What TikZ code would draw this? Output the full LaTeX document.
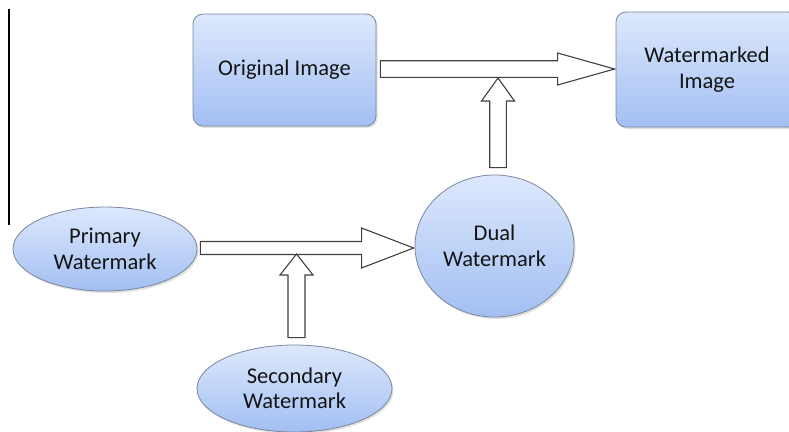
\documentclass[tikz,border=0pt]{standalone}
\usepackage{fontspec}
\setmainfont{Carlito}
\usetikzlibrary{calc,shapes.geometric,shadows}
\definecolor{topblue}{HTML}{DDE8FC}
\definecolor{botblue}{HTML}{A2BFF3}
\definecolor{edgegray}{HTML}{7A879C}
\tikzset{
  shapebase/.style={draw=edgegray, line width=0.8pt, top color=topblue, bottom color=botblue,
    drop shadow={opacity=0.25, shadow xshift=1.5pt, shadow yshift=-2pt},
    font=\fontsize{22.5}{25.5}\selectfont, text=black!92, align=center, inner sep=0pt},
  boxnode/.style={shapebase, rectangle, rounded corners=10pt},
  ellnode/.style={shapebase, ellipse},
  blockarrow/.style={draw=black!75, line width=1.1pt, fill=white, line join=miter}
}
% horizontal block arrow: start, tip, half shaft, half head, head length
\newcommand{\hblock}[5]{%
  \draw[blockarrow] ($(#1)+(0,-#3)$) -- ($(#2)+(-#5,-#3)$) -- ($(#2)+(-#5,-#4)$) -- (#2)
    -- ($(#2)+(-#5,#4)$) -- ($(#2)+(-#5,#3)$) -- ($(#1)+(0,#3)$) -- cycle;}
% vertical (upward) block arrow: start, tip, half shaft, half head, head length
\newcommand{\vblock}[5]{%
  \draw[blockarrow] ($(#1)+(-#3,0)$) -- ($(#2)+(-#3,#5)$) -- ($(#2)+(-#4,#5)$) -- (#2)
    -- ($(#2)+(#4,#5)$) -- ($(#2)+(#3,#5)$) -- ($(#1)+(#3,0)$) -- cycle;}
\begin{document}
\begin{tikzpicture}[x=1pt,y=-1pt]
\clip (0,0) rectangle (789,431);
\fill[white] (0,0) rectangle (789,431);

% left vertical rule
\draw[line width=1.2pt, black] (9,9) coordinate (ltop) -- (9,225) coordinate (lbot);

% nodes
\node[boxnode, minimum width=183pt, minimum height=112pt] (orig) at (284.5,70) {Original Image};
\node[boxnode, minimum width=182pt, minimum height=115pt] (wm) at (707,69.5) {Watermarked\\Image};
\node[ellnode, minimum width=184pt, minimum height=84pt] (prim) at (105,249) {Primary\\Watermark};
\node[ellnode, minimum width=195pt, minimum height=87pt] (sec) at (294.5,388.5) {Secondary\\Watermark};
\node[ellnode, minimum width=159pt, minimum height=142pt] (dual) at (494.5,246) {Dual\\Watermark};

% connector coordinates
\coordinate (a1s) at ($(orig.east)+(4,-1)$);
\coordinate (a1t) at ($(wm.west)+(-1,-0.5)$);
\coordinate (a2s) at ($(dual.north)+(3.5,-7)$);
\coordinate (a2t) at (498,78);
\coordinate (a3s) at ($(prim.east)+(3,-1)$);
\coordinate (a3t) at ($(dual.west)+(-1,2)$);
\coordinate (a4s) at ($(sec.north)+(2,-7)$);
\coordinate (a4t) at (296.5,254);

% block arrows
\hblock{a1s}{a1t}{8.3}{16}{57}
\vblock{a2s}{a2t}{8.3}{16.5}{23}
\hblock{a3s}{a3t}{6.5}{20}{52}
\vblock{a4s}{a4t}{8.5}{16.5}{21}
\end{tikzpicture}
\end{document}
